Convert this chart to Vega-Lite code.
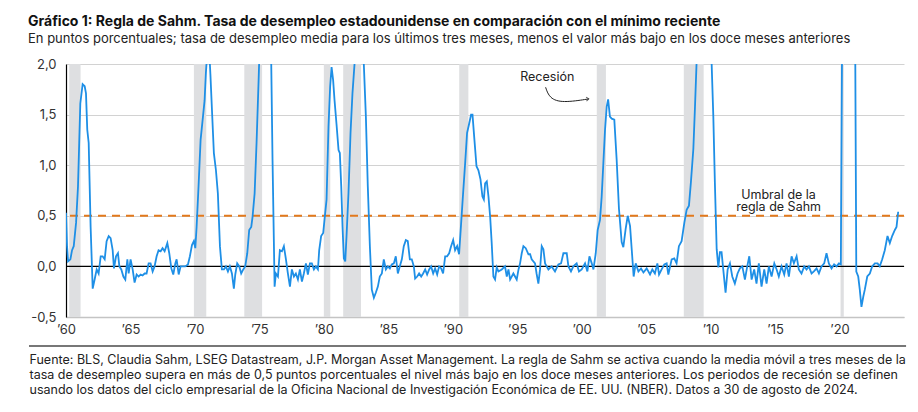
{
  "$schema": "https://vega.github.io/schema/vega-lite/v6.json",
  "background": "white",
  "padding": {"left": 27, "top": 15, "right": 14, "bottom": 2},
  "config": {"font": "Inter", "view": {"stroke": null}},
  "title": {
    "text": "Gráfico 1: Regla de Sahm. Tasa de desempleo estadounidense en comparación con el mínimo reciente",
    "subtitle": "En puntos porcentuales; tasa de desempleo media para los últimos tres meses, menos el valor más bajo en los doce meses anteriores",
    "anchor": "start",
    "frame": "bounds",
    "fontSize": 14,
    "fontWeight": "bold",
    "color": "#111111",
    "subtitleFontSize": 13,
    "subtitleColor": "#222222",
    "subtitlePadding": 4,
    "offset": 12
  },
  "width": 838,
  "height": 253,
  "datasets": {
    "recessions": [
      {"t": 1960.25, "t2": 1961.13},
      {"t": 1969.92, "t2": 1970.88},
      {"t": 1973.83, "t2": 1975.21},
      {"t": 1980.0, "t2": 1980.5},
      {"t": 1981.5, "t2": 1982.88},
      {"t": 1990.5, "t2": 1991.21},
      {"t": 2001.17, "t2": 2001.88},
      {"t": 2007.92, "t2": 2009.46},
      {"t": 2020.08, "t2": 2020.33}
    ],
    "notes": [
      {"t": 1997.33, "v": 1.87, "label": "Recesión"},
      {"t": 2015.27, "v": 0.71, "label": "Umbral de la\nregla de Sahm"}
    ],
    "arrow": [
      {"t": 1997.2, "v": 1.77},
      {"t": 1997.5, "v": 1.66},
      {"t": 1998.5, "v": 1.615},
      {"t": 2000.55, "v": 1.655}
    ],
    "arrowhead": [
      {"t": 2000.55, "v": 1.655}
    ],
    "sahm": [
      {"t": 1960.0, "v": 0.53}, {"t": 1960.08, "v": 0.2}, {"t": 1960.16, "v": 0.05}, {"t": 1960.34, "v": 0.07},
      {"t": 1960.47, "v": 0.16}, {"t": 1960.6, "v": 0.2}, {"t": 1960.78, "v": 0.43}, {"t": 1960.93, "v": 0.79},
      {"t": 1961.02, "v": 1.2}, {"t": 1961.11, "v": 1.61}, {"t": 1961.29, "v": 1.8}, {"t": 1961.45, "v": 1.78},
      {"t": 1961.55, "v": 1.71}, {"t": 1961.65, "v": 1.35}, {"t": 1961.76, "v": 1.22}, {"t": 1961.91, "v": 0.39},
      {"t": 1962.07, "v": -0.22}, {"t": 1962.22, "v": -0.13}, {"t": 1962.38, "v": -0.03}, {"t": 1962.53, "v": -0.07},
      {"t": 1962.69, "v": 0.1}, {"t": 1962.84, "v": 0.1}, {"t": 1963.0, "v": 0.07}, {"t": 1963.15, "v": 0.25},
      {"t": 1963.31, "v": 0.3}, {"t": 1963.46, "v": 0.28}, {"t": 1963.62, "v": 0.16}, {"t": 1963.72, "v": -0.02},
      {"t": 1963.88, "v": 0.1}, {"t": 1964.03, "v": 0.13}, {"t": 1964.14, "v": 0.0}, {"t": 1964.29, "v": -0.03},
      {"t": 1964.45, "v": -0.1}, {"t": 1964.6, "v": -0.13}, {"t": 1964.76, "v": 0.07}, {"t": 1964.86, "v": -0.07},
      {"t": 1965.01, "v": 0.07}, {"t": 1965.17, "v": -0.03}, {"t": 1965.32, "v": -0.16}, {"t": 1965.48, "v": -0.08},
      {"t": 1965.63, "v": -0.1}, {"t": 1965.79, "v": -0.08}, {"t": 1965.94, "v": -0.09}, {"t": 1966.1, "v": -0.07},
      {"t": 1966.25, "v": -0.07}, {"t": 1966.41, "v": 0.03}, {"t": 1966.56, "v": 0.03}, {"t": 1966.72, "v": -0.05},
      {"t": 1966.87, "v": 0.0}, {"t": 1967.03, "v": 0.1}, {"t": 1967.18, "v": 0.16}, {"t": 1967.34, "v": 0.15},
      {"t": 1967.49, "v": 0.18}, {"t": 1967.65, "v": 0.15}, {"t": 1967.86, "v": 0.23}, {"t": 1968.01, "v": 0.13},
      {"t": 1968.17, "v": -0.02}, {"t": 1968.32, "v": -0.08}, {"t": 1968.48, "v": 0.03}, {"t": 1968.58, "v": 0.07},
      {"t": 1968.74, "v": -0.08}, {"t": 1968.89, "v": 0.0}, {"t": 1969.25, "v": 0.0}, {"t": 1969.46, "v": 0.02},
      {"t": 1969.61, "v": 0.1}, {"t": 1969.77, "v": 0.21}, {"t": 1969.92, "v": 0.25}, {"t": 1970.03, "v": 0.18},
      {"t": 1970.13, "v": 0.39}, {"t": 1970.28, "v": 0.79}, {"t": 1970.44, "v": 1.25}, {"t": 1970.6, "v": 1.45},
      {"t": 1970.75, "v": 1.64}, {"t": 1970.85, "v": 1.91}, {"t": 1971.0, "v": 2.2}, {"t": 1971.1, "v": 2.15},
      {"t": 1971.2, "v": 1.9}, {"t": 1971.32, "v": 1.55}, {"t": 1971.47, "v": 1.12}, {"t": 1971.63, "v": 0.95},
      {"t": 1971.78, "v": 0.72}, {"t": 1971.94, "v": 0.2}, {"t": 1972.09, "v": -0.03}, {"t": 1972.25, "v": -0.03},
      {"t": 1972.4, "v": 0.0}, {"t": 1972.56, "v": -0.05}, {"t": 1972.71, "v": 0.0}, {"t": 1972.87, "v": -0.07},
      {"t": 1973.02, "v": -0.22}, {"t": 1973.13, "v": -0.08}, {"t": 1973.28, "v": 0.03}, {"t": 1973.44, "v": 0.0},
      {"t": 1973.59, "v": -0.07}, {"t": 1973.75, "v": -0.03}, {"t": 1973.9, "v": 0.0}, {"t": 1974.06, "v": 0.13},
      {"t": 1974.21, "v": 0.36}, {"t": 1974.37, "v": 0.39}, {"t": 1974.47, "v": 0.49}, {"t": 1974.63, "v": 0.72},
      {"t": 1974.78, "v": 1.22}, {"t": 1974.94, "v": 1.84}, {"t": 1975.1, "v": 2.5}, {"t": 1975.35, "v": 3.2},
      {"t": 1975.55, "v": 3.3}, {"t": 1975.75, "v": 2.8}, {"t": 1975.92, "v": 2.0}, {"t": 1976.02, "v": 1.05},
      {"t": 1976.18, "v": -0.2}, {"t": 1976.28, "v": -0.07}, {"t": 1976.44, "v": -0.1}, {"t": 1976.59, "v": 0.16},
      {"t": 1976.75, "v": 0.15}, {"t": 1976.9, "v": 0.2}, {"t": 1977.06, "v": 0.07}, {"t": 1977.21, "v": -0.07},
      {"t": 1977.37, "v": -0.2}, {"t": 1977.52, "v": -0.03}, {"t": 1977.68, "v": -0.1}, {"t": 1977.83, "v": -0.07},
      {"t": 1977.99, "v": -0.13}, {"t": 1978.14, "v": -0.03}, {"t": 1978.3, "v": -0.15}, {"t": 1978.45, "v": -0.07},
      {"t": 1978.61, "v": 0.03}, {"t": 1978.76, "v": -0.08}, {"t": 1978.92, "v": 0.03}, {"t": 1979.07, "v": 0.03},
      {"t": 1979.23, "v": -0.03}, {"t": 1979.38, "v": 0.0}, {"t": 1979.54, "v": -0.03}, {"t": 1979.64, "v": 0.16},
      {"t": 1979.79, "v": 0.3}, {"t": 1979.95, "v": 0.33}, {"t": 1980.05, "v": 0.46}, {"t": 1980.21, "v": 0.66},
      {"t": 1980.36, "v": 1.38}, {"t": 1980.49, "v": 1.78}, {"t": 1980.6, "v": 1.97}, {"t": 1980.72, "v": 1.84},
      {"t": 1980.83, "v": 1.64}, {"t": 1980.98, "v": 1.41}, {"t": 1981.14, "v": 1.15}, {"t": 1981.24, "v": 1.12},
      {"t": 1981.35, "v": 0.79}, {"t": 1981.45, "v": 0.39}, {"t": 1981.55, "v": 0.08}, {"t": 1981.66, "v": 0.05},
      {"t": 1981.76, "v": 0.3}, {"t": 1981.91, "v": 0.72}, {"t": 1982.07, "v": 1.32}, {"t": 1982.22, "v": 1.71},
      {"t": 1982.38, "v": 2.0}, {"t": 1982.6, "v": 2.4}, {"t": 1982.85, "v": 2.6}, {"t": 1983.0, "v": 2.3},
      {"t": 1983.1, "v": 2.0}, {"t": 1983.26, "v": 1.48}, {"t": 1983.41, "v": 0.79}, {"t": 1983.57, "v": 0.2},
      {"t": 1983.72, "v": -0.23}, {"t": 1983.88, "v": -0.31}, {"t": 1984.03, "v": -0.26}, {"t": 1984.19, "v": -0.2},
      {"t": 1984.34, "v": -0.1}, {"t": 1984.5, "v": -0.07}, {"t": 1984.65, "v": 0.07}, {"t": 1984.81, "v": -0.03},
      {"t": 1984.96, "v": 0.0}, {"t": 1985.12, "v": -0.02}, {"t": 1985.27, "v": 0.02}, {"t": 1985.43, "v": 0.03},
      {"t": 1985.58, "v": 0.1}, {"t": 1985.74, "v": -0.07}, {"t": 1985.89, "v": 0.0}, {"t": 1986.05, "v": 0.07},
      {"t": 1986.2, "v": 0.2}, {"t": 1986.36, "v": 0.26}, {"t": 1986.51, "v": 0.25}, {"t": 1986.67, "v": 0.07},
      {"t": 1986.82, "v": 0.07}, {"t": 1986.98, "v": 0.0}, {"t": 1987.08, "v": -0.12}, {"t": 1987.24, "v": -0.1},
      {"t": 1987.39, "v": -0.07}, {"t": 1987.55, "v": -0.1}, {"t": 1987.7, "v": -0.07}, {"t": 1987.86, "v": -0.03},
      {"t": 1988.01, "v": -0.08}, {"t": 1988.17, "v": -0.03}, {"t": 1988.32, "v": 0.0}, {"t": 1988.48, "v": -0.07},
      {"t": 1988.63, "v": -0.02}, {"t": 1988.79, "v": -0.08}, {"t": 1988.94, "v": 0.0}, {"t": 1989.1, "v": -0.02},
      {"t": 1989.25, "v": -0.07}, {"t": 1989.41, "v": 0.1}, {"t": 1989.56, "v": 0.1}, {"t": 1989.72, "v": 0.13},
      {"t": 1989.87, "v": 0.2}, {"t": 1990.03, "v": 0.26}, {"t": 1990.18, "v": 0.16}, {"t": 1990.34, "v": 0.2},
      {"t": 1990.49, "v": 0.12}, {"t": 1990.65, "v": 0.43}, {"t": 1990.8, "v": 0.72}, {"t": 1990.96, "v": 1.02},
      {"t": 1991.11, "v": 1.32}, {"t": 1991.27, "v": 1.41}, {"t": 1991.42, "v": 1.5}, {"t": 1991.53, "v": 1.5},
      {"t": 1991.68, "v": 1.25}, {"t": 1991.84, "v": 0.99}, {"t": 1991.99, "v": 0.95}, {"t": 1992.15, "v": 0.86},
      {"t": 1992.3, "v": 0.69}, {"t": 1992.41, "v": 0.66}, {"t": 1992.51, "v": 0.82}, {"t": 1992.64, "v": 0.84},
      {"t": 1992.77, "v": 0.69}, {"t": 1992.9, "v": 0.49}, {"t": 1993.02, "v": 0.23}, {"t": 1993.15, "v": -0.1},
      {"t": 1993.28, "v": -0.13}, {"t": 1993.41, "v": -0.01}, {"t": 1993.54, "v": -0.05}, {"t": 1993.8, "v": -0.03},
      {"t": 1994.05, "v": 0.0}, {"t": 1994.19, "v": -0.1}, {"t": 1994.32, "v": -0.03}, {"t": 1994.45, "v": -0.13},
      {"t": 1994.7, "v": -0.07}, {"t": 1994.96, "v": -0.13}, {"t": 1995.1, "v": -0.03}, {"t": 1995.22, "v": 0.03},
      {"t": 1995.35, "v": 0.13}, {"t": 1995.48, "v": 0.2}, {"t": 1995.66, "v": 0.18}, {"t": 1995.87, "v": 0.12},
      {"t": 1996.0, "v": 0.12}, {"t": 1996.12, "v": 0.07}, {"t": 1996.38, "v": 0.03}, {"t": 1996.5, "v": -0.07},
      {"t": 1996.64, "v": -0.17}, {"t": 1996.77, "v": -0.03}, {"t": 1996.9, "v": 0.2}, {"t": 1997.03, "v": 0.17},
      {"t": 1997.16, "v": 0.03}, {"t": 1997.42, "v": -0.03}, {"t": 1997.67, "v": 0.0}, {"t": 1997.93, "v": -0.05},
      {"t": 1998.19, "v": 0.02}, {"t": 1998.4, "v": 0.03}, {"t": 1998.58, "v": 0.13}, {"t": 1998.84, "v": 0.13},
      {"t": 1998.97, "v": 0.0}, {"t": 1999.17, "v": -0.05}, {"t": 1999.35, "v": 0.0}, {"t": 1999.61, "v": 0.03},
      {"t": 1999.79, "v": -0.05}, {"t": 2000.0, "v": -0.03}, {"t": 2000.26, "v": 0.03}, {"t": 2000.44, "v": -0.05},
      {"t": 2000.6, "v": 0.1}, {"t": 2000.78, "v": 0.03}, {"t": 2000.91, "v": -0.03}, {"t": 2001.09, "v": 0.13},
      {"t": 2001.24, "v": 0.36}, {"t": 2001.42, "v": 0.46}, {"t": 2001.55, "v": 0.69}, {"t": 2001.68, "v": 1.02},
      {"t": 2001.81, "v": 1.35}, {"t": 2001.94, "v": 1.58}, {"t": 2002.05, "v": 1.65}, {"t": 2002.19, "v": 1.48},
      {"t": 2002.33, "v": 1.46}, {"t": 2002.53, "v": 1.45}, {"t": 2002.71, "v": 1.06}, {"t": 2002.89, "v": 0.57},
      {"t": 2003.1, "v": 0.24}, {"t": 2003.23, "v": 0.19}, {"t": 2003.41, "v": 0.37}, {"t": 2003.57, "v": 0.5},
      {"t": 2003.75, "v": 0.4}, {"t": 2003.88, "v": 0.17}, {"t": 2004.03, "v": -0.1}, {"t": 2004.19, "v": 0.03},
      {"t": 2004.4, "v": -0.05}, {"t": 2004.6, "v": -0.02}, {"t": 2004.79, "v": -0.06}, {"t": 2005.04, "v": -0.02},
      {"t": 2005.3, "v": -0.08}, {"t": 2005.48, "v": -0.03}, {"t": 2005.68, "v": -0.07}, {"t": 2005.87, "v": 0.03},
      {"t": 2006.0, "v": -0.08}, {"t": 2006.2, "v": -0.03}, {"t": 2006.41, "v": 0.02}, {"t": 2006.59, "v": 0.03},
      {"t": 2006.72, "v": -0.08}, {"t": 2006.98, "v": 0.07}, {"t": 2007.18, "v": 0.08}, {"t": 2007.36, "v": 0.03},
      {"t": 2007.54, "v": 0.2}, {"t": 2007.75, "v": 0.25}, {"t": 2007.96, "v": 0.43}, {"t": 2008.14, "v": 0.56},
      {"t": 2008.32, "v": 0.6}, {"t": 2008.47, "v": 0.83}, {"t": 2008.66, "v": 1.16}, {"t": 2008.78, "v": 1.55},
      {"t": 2008.91, "v": 2.01}, {"t": 2009.1, "v": 2.8}, {"t": 2009.4, "v": 3.7}, {"t": 2009.7, "v": 4.1},
      {"t": 2009.9, "v": 3.2}, {"t": 2010.08, "v": 2.0}, {"t": 2010.21, "v": 1.48}, {"t": 2010.33, "v": 0.83},
      {"t": 2010.47, "v": 0.17}, {"t": 2010.6, "v": -0.01}, {"t": 2010.72, "v": 0.14}, {"t": 2010.85, "v": 0.14},
      {"t": 2010.98, "v": -0.03}, {"t": 2011.16, "v": -0.26}, {"t": 2011.32, "v": -0.03}, {"t": 2011.5, "v": 0.03},
      {"t": 2011.68, "v": -0.1}, {"t": 2011.88, "v": -0.17}, {"t": 2012.09, "v": -0.07}, {"t": 2012.27, "v": -0.02},
      {"t": 2012.46, "v": 0.0}, {"t": 2012.66, "v": -0.13}, {"t": 2012.84, "v": 0.0}, {"t": 2013.0, "v": 0.1},
      {"t": 2013.18, "v": -0.13}, {"t": 2013.38, "v": -0.03}, {"t": 2013.56, "v": -0.17}, {"t": 2013.74, "v": 0.03},
      {"t": 2013.95, "v": -0.2}, {"t": 2014.16, "v": -0.03}, {"t": 2014.34, "v": -0.17}, {"t": 2014.52, "v": 0.0},
      {"t": 2014.73, "v": -0.1}, {"t": 2014.94, "v": 0.03}, {"t": 2015.12, "v": -0.03}, {"t": 2015.29, "v": -0.1},
      {"t": 2015.5, "v": 0.0}, {"t": 2015.71, "v": -0.08}, {"t": 2015.89, "v": 0.03}, {"t": 2016.07, "v": -0.1},
      {"t": 2016.28, "v": 0.1}, {"t": 2016.46, "v": 0.03}, {"t": 2016.67, "v": 0.1}, {"t": 2016.84, "v": -0.03},
      {"t": 2017.05, "v": -0.07}, {"t": 2017.26, "v": 0.0}, {"t": 2017.44, "v": -0.03}, {"t": 2017.62, "v": 0.0},
      {"t": 2017.83, "v": -0.07}, {"t": 2018.01, "v": -0.05}, {"t": 2018.22, "v": -0.02}, {"t": 2018.4, "v": -0.07},
      {"t": 2018.6, "v": 0.0}, {"t": 2018.81, "v": 0.03}, {"t": 2018.99, "v": 0.13}, {"t": 2019.17, "v": 0.03},
      {"t": 2019.38, "v": -0.02}, {"t": 2019.58, "v": 0.02}, {"t": 2019.77, "v": 0.0}, {"t": 2019.95, "v": 0.03},
      {"t": 2020.1, "v": 0.02}, {"t": 2020.21, "v": 2.5}, {"t": 2020.3, "v": 5.0}, {"t": 2020.45, "v": 9.5},
      {"t": 2020.7, "v": 9.0}, {"t": 2021.0, "v": 6.0}, {"t": 2021.2, "v": 2.6}, {"t": 2021.3, "v": -0.05},
      {"t": 2021.45, "v": -0.1}, {"t": 2021.57, "v": -0.23}, {"t": 2021.7, "v": -0.4}, {"t": 2021.84, "v": -0.3},
      {"t": 2021.96, "v": -0.23}, {"t": 2022.15, "v": -0.1}, {"t": 2022.35, "v": -0.07}, {"t": 2022.53, "v": 0.0},
      {"t": 2022.74, "v": 0.03}, {"t": 2022.95, "v": 0.03}, {"t": 2023.12, "v": 0.0}, {"t": 2023.31, "v": 0.07},
      {"t": 2023.51, "v": 0.16}, {"t": 2023.72, "v": 0.3}, {"t": 2023.9, "v": 0.23}, {"t": 2024.08, "v": 0.3},
      {"t": 2024.29, "v": 0.36}, {"t": 2024.42, "v": 0.39}, {"t": 2024.55, "v": 0.54}
    ]
  },
  "layer": [
    {
      "data": {"name": "recessions"},
      "mark": {"type": "rect", "color": "#dedfe1"},
      "encoding": {
        "x": {"field": "t", "type": "quantitative", "scale": {"domain": [1960, 2025], "nice": false, "zero": false}},
        "x2": {"field": "t2"}
      }
    },
    {
      "data": {"values": [{"v": 0.5}]},
      "mark": {"type": "rule", "color": "#e2791c", "strokeWidth": 2, "strokeDash": [8, 6]},
      "encoding": {
        "y": {"field": "v", "type": "quantitative", "scale": {"domain": [-0.5, 2], "nice": false, "zero": false}}
      }
    },
    {
      "data": {"values": [{"v": 0}]},
      "mark": {"type": "rule", "color": "#000000", "strokeWidth": 1.2},
      "encoding": {
        "y": {"field": "v", "type": "quantitative", "scale": {"domain": [-0.5, 2], "nice": false, "zero": false}}
      }
    },
    {
      "data": {"name": "sahm"},
      "mark": {"type": "line", "color": "#1e8fe6", "strokeWidth": 1.8, "clip": true},
      "encoding": {
        "x": {"field": "t", "type": "quantitative", "scale": {"domain": [1960, 2025], "nice": false, "zero": false},
          "axis": {
            "title": [
              "Fuente: BLS, Claudia Sahm, LSEG Datastream, J.P. Morgan Asset Management. La regla de Sahm se activa cuando la media móvil a tres meses de la",
              "tasa de desempleo supera en más de 0,5 puntos porcentuales el nivel más bajo en los doce meses anteriores. Los periodos de recesión se definen",
              "usando los datos del ciclo empresarial de la Oficina Nacional de Investigación Económica de EE. UU. (NBER). Datos a 30 de agosto de 2024."
            ],
            "titleAnchor": "start", "titleAlign": "left", "titleBaseline": "top", "titleX": -37, "titleY": 36,
            "titleFontSize": 12.5, "titleFontWeight": "normal", "titleColor": "#222222", "titleLineHeight": 15,
            "values": [1960, 1965, 1970, 1975, 1980, 1985, 1990, 1995, 2000, 2005, 2010, 2015, 2020],
            "labelExpr": "'\u2019' + substring(toString(datum.value), 2)", "grid": false, "ticks": false,
            "domainColor": "#c4c4c4", "domainWidth": 1.5, "labelFontSize": 13, "labelColor": "#333333", "labelPadding": 6, "labelFlush": false}},
        "y": {"field": "v", "type": "quantitative", "scale": {"domain": [-0.5, 2], "nice": false, "zero": false},
          "axis": {"title": null, "values": [-0.5, 0, 0.5, 1, 1.5, 2],
            "labelExpr": "replace(replace(format(datum.value, '.1f'), '.', ','), '\u2212', '-')",
            "ticks": false, "domainColor": "#000000", "domainWidth": 1.2, "gridColor": "#d2d2d2", "gridWidth": 1,
            "labelFontSize": 13, "labelColor": "#333333", "labelPadding": 10}}
      }
    },
    {
      "data": {"values": [{}]},
      "mark": {"type": "rule", "color": "#777777", "strokeWidth": 2, "clip": false},
      "encoding": {
        "x": {"datum": 1957.13, "type": "quantitative", "scale": {"domain": [1960, 2025], "nice": false, "zero": false}},
        "x2": {"datum": 2025.16},
        "y": {"datum": -0.787, "type": "quantitative", "scale": {"domain": [-0.5, 2], "nice": false, "zero": false}}
      }
    },
    {
      "data": {"name": "arrow"},
      "mark": {"type": "line", "color": "#222222", "strokeWidth": 1, "interpolate": "basis"},
      "encoding": {
        "x": {"field": "t", "type": "quantitative", "scale": {"domain": [1960, 2025], "nice": false, "zero": false}},
        "y": {"field": "v", "type": "quantitative", "scale": {"domain": [-0.5, 2], "nice": false, "zero": false}}
      }
    },
    {
      "data": {"name": "arrowhead"},
      "mark": {"type": "point", "shape": "M -1 -0.8 L 0 0 L -1 0.8", "filled": false, "stroke": "#222222", "strokeWidth": 1, "size": 25, "angle": -6},
      "encoding": {
        "x": {"field": "t", "type": "quantitative", "scale": {"domain": [1960, 2025], "nice": false, "zero": false}},
        "y": {"field": "v", "type": "quantitative", "scale": {"domain": [-0.5, 2], "nice": false, "zero": false}}
      }
    },
    {
      "data": {"name": "notes"},
      "mark": {"type": "text", "fontSize": 12.5, "color": "#222222", "lineBreak": "\n", "lineHeight": 12, "baseline": "middle", "align": "center"},
      "encoding": {
        "x": {"field": "t", "type": "quantitative", "scale": {"domain": [1960, 2025], "nice": false, "zero": false}},
        "y": {"field": "v", "type": "quantitative", "scale": {"domain": [-0.5, 2], "nice": false, "zero": false}},
        "text": {"field": "label"}
      }
    }
  ]
}
